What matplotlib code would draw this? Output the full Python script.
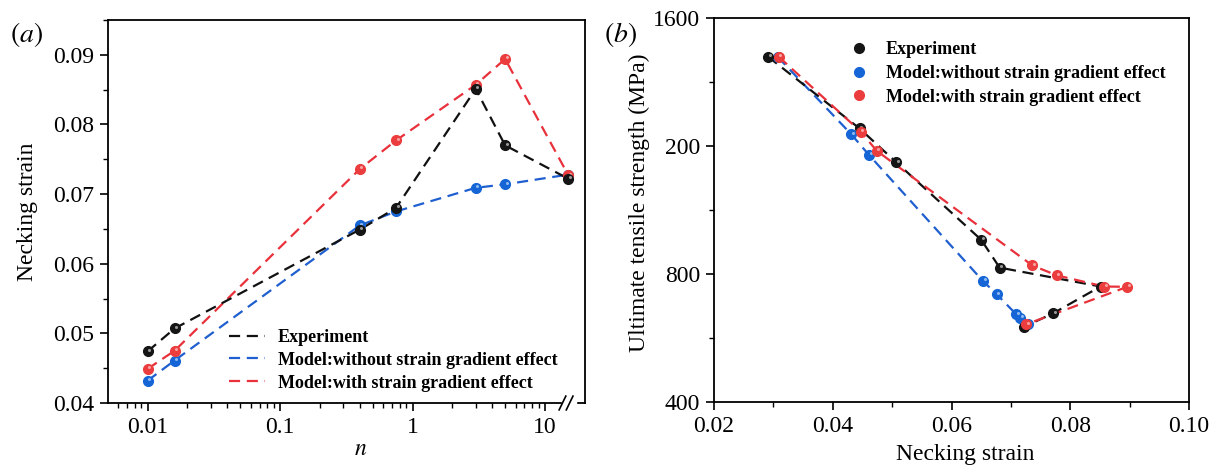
import matplotlib.pyplot as plt
import numpy as np
import matplotlib.transforms as mtransforms
from matplotlib.ticker import FixedLocator, MultipleLocator, NullFormatter

plt.rcParams['font.family'] = 'Liberation Serif'
plt.rcParams['mathtext.fontset'] = 'stix'

# ---- panel (a): necking strain vs n ----
n_vals = [0.01, 0.016, 0.4, 0.75, 3, 5, 15]
exp_a = [0.0474, 0.0507, 0.0649, 0.0680, 0.0851, 0.0770, 0.0722]
nosg_a = [0.0432, 0.0461, 0.0655, 0.0675, 0.0709, 0.0714, 0.0728]
sg_a = [0.0449, 0.0475, 0.0736, 0.0777, 0.0857, 0.0894, 0.0727]

# ---- panel (b): UTS vs necking strain ----
exp_x = [0.0291, 0.0445, 0.0507, 0.0650, 0.0681, 0.0851, 0.0771, 0.0722]
exp_y = [1479, 1255, 1149, 907, 820, 761, 677, 635]
nosg_x = [0.0307, 0.0431, 0.0461, 0.0653, 0.0676, 0.0709, 0.0716, 0.0728]
nosg_y = [1479, 1237, 1172, 778, 737, 674, 664, 643]
sg_x = [0.0309, 0.0447, 0.0474, 0.0736, 0.0777, 0.0857, 0.0896, 0.0726]
sg_y = [1479, 1245, 1185, 827, 796, 761, 760, 643]

labels = ['Experiment', 'Model:without strain gradient effect', 'Model:with strain gradient effect']
a_xticks = [0.01, 0.1, 1, 10]
a_xticklabels = ['0.01', '0.1', '1', '10']
b_yticks = [400, 800, 1200, 1600]
b_yticklabels = ['400', '800', '200', '1600']

line_col = {'exp': '#111111', 'nosg': '#1f5fcf', 'sg': '#e8313b'}
dot_col = {'exp': '#151515', 'nosg': '#1565d6', 'sg': '#eb3d3d'}
hl_col = {'exp': '#9a9a9a', 'nosg': '#8fb8f0', 'sg': '#f7a3a3'}
dash = (0, (5, 3))
FS = 17

fig = plt.figure(figsize=(12.15, 4.66), dpi=100)
ax1 = fig.add_axes([0.0886, 0.1352, 0.3928, 0.8219])
ax2 = fig.add_axes([0.5877, 0.1373, 0.3909, 0.824])


def balls(ax, x, y, key, z):
    # shaded sphere look: dark ball + small light spot
    ax.plot(x, y, 'o', color=dot_col[key], ms=7, mec=dot_col[key], zorder=z, clip_on=False)
    off = mtransforms.offset_copy(ax.transData, fig=fig, x=1.2, y=1.2, units='points')
    ax.plot(x, y, 'o', color=hl_col[key], ms=2.2, mew=0, transform=off, zorder=z + 0.1, clip_on=False)


# panel (a)
ax1.plot(n_vals, nosg_a, linestyle=dash, color=line_col['nosg'], lw=1.6, label=labels[1], zorder=2)
ax1.plot(n_vals, sg_a, linestyle=dash, color=line_col['sg'], lw=1.6, label=labels[2], zorder=2)
ax1.plot(n_vals, exp_a, linestyle=dash, color=line_col['exp'], lw=1.6, label=labels[0], zorder=2)
balls(ax1, n_vals, nosg_a, 'nosg', 3)
balls(ax1, n_vals, sg_a, 'sg', 4)
balls(ax1, n_vals, exp_a, 'exp', 5)

ax1.set_xscale('log')
ax1.set_xlim(0.005, 20)
ax1.set_ylim(0.04, 0.095)
ax1.xaxis.set_major_locator(FixedLocator(a_xticks))
ax1.set_xticklabels(a_xticklabels)
minor = [k * 10.0 ** e for e in (-3, -2, -1, 0) for k in range(2, 10)]
ax1.xaxis.set_minor_locator(FixedLocator([m for m in minor if m > 0.005]))
ax1.xaxis.set_minor_formatter(NullFormatter())
ax1.yaxis.set_major_locator(MultipleLocator(0.01))
ax1.yaxis.set_minor_locator(MultipleLocator(0.005))
ax1.set_yticklabels(['%.2f' % v for v in ax1.get_yticks()])
ax1.set_xlabel('$n$', fontsize=FS)
ax1.xaxis.set_label_coords(0.531, -0.095)
ax1.set_ylabel('Necking strain', fontsize=FS)
ax1.yaxis.set_label_coords(-0.146, 0.5)

h, l = ax1.get_legend_handles_labels()
order = [2, 0, 1]
ax1.legend([h[i] for i in order], [l[i] for i in order], loc='upper left',
           bbox_to_anchor=(229 / 1215, 1 - 329 / 466), bbox_transform=fig.transFigure,
           frameon=False, borderpad=0, borderaxespad=0, handlelength=2.0,
           handletextpad=0.7, labelspacing=0.32, prop={'weight': 'bold', 'size': 13})

# axis break mark on the x axis
ax1.add_patch(plt.Rectangle((0.952, -0.01), 0.03, 0.02, transform=ax1.transAxes,
                            color='white', clip_on=False, zorder=10))
for dx in (0.952, 0.967):
    ax1.plot([dx - 0.006, dx + 0.008], [-0.018, 0.018], transform=ax1.transAxes,
             color='k', lw=1.2, clip_on=False, zorder=11)

# panel (b)
ax2.plot(nosg_x, nosg_y, linestyle=dash, color=line_col['nosg'], lw=1.6, zorder=2)
ax2.plot(exp_x, exp_y, linestyle=dash, color=line_col['exp'], lw=1.6, zorder=2)
ax2.plot(sg_x, sg_y, linestyle=dash, color=line_col['sg'], lw=1.6, zorder=2)
balls(ax2, nosg_x, nosg_y, 'nosg', 3)
balls(ax2, exp_x, exp_y, 'exp', 4)
balls(ax2, sg_x, sg_y, 'sg', 5)

ax2.set_xlim(0.02, 0.10)
ax2.set_ylim(400, 1600)
ax2.xaxis.set_major_locator(MultipleLocator(0.02))
ax2.xaxis.set_minor_locator(MultipleLocator(0.01))
ax2.set_xticklabels(['%.2f' % v for v in ax2.get_xticks()])
ax2.yaxis.set_major_locator(FixedLocator(b_yticks))
ax2.yaxis.set_minor_locator(MultipleLocator(200))
ax2.set_yticklabels(b_yticklabels)
ax2.set_xlabel('Necking strain', fontsize=FS)
ax2.xaxis.set_label_coords(0.528, -0.11)
ax2.set_ylabel('Ultimate tensile strength (MPa)', fontsize=FS)
ax2.yaxis.set_label_coords(-0.135, 0.52)

leg_h = [plt.Line2D([], [], ls='none', marker='o', ms=7, color=dot_col[k]) for k in ('exp', 'nosg', 'sg')]
ax2.legend(leg_h, labels, loc='upper left',
           bbox_to_anchor=(850 / 1215, 1 - 41 / 466), bbox_transform=fig.transFigure,
           frameon=False, borderpad=0, borderaxespad=0, handlelength=1.0,
           handletextpad=1.0, labelspacing=0.38, prop={'weight': 'bold', 'size': 13})

for ax in (ax1, ax2):
    for s in ax.spines.values():
        s.set_linewidth(1.3)
    ax.tick_params(which='major', direction='out', length=6, width=1.2, labelsize=FS, pad=4)
    ax.tick_params(which='minor', direction='out', length=3.5, width=1.0)

fig.text(0.022, 0.925, '$(a)$', fontsize=20, ha='center', va='center')
fig.text(0.511, 0.927, '$(b)$', fontsize=20, ha='center', va='center')

fig.savefig('out.png', dpi=100)
